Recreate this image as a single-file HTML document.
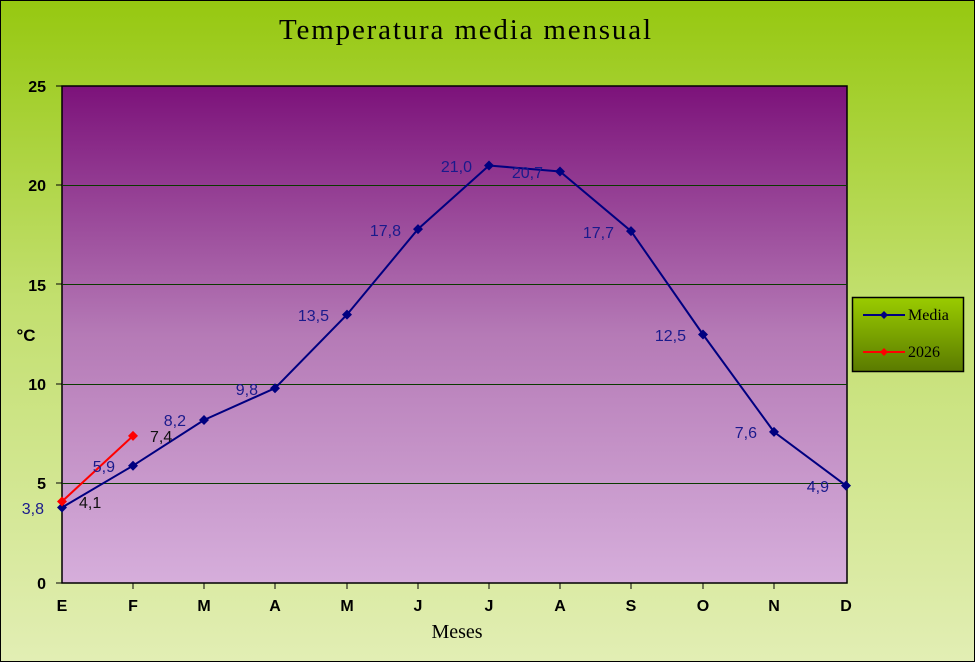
<!DOCTYPE html>
<html><head><meta charset="utf-8"><style>body{margin:0}svg{display:block}</style></head><body>
<svg width="975" height="662" xmlns="http://www.w3.org/2000/svg">
<defs>
<linearGradient id="bg" x1="0" y1="0" x2="0" y2="1"><stop offset="0" stop-color="#96c810"/><stop offset="0.45" stop-color="#c2df6e"/><stop offset="1" stop-color="#e2eeb4"/></linearGradient>
<linearGradient id="pa" x1="0" y1="0" x2="0" y2="1"><stop offset="0" stop-color="#7c127a"/><stop offset="0.5" stop-color="#b57ab6"/><stop offset="1" stop-color="#d6aedb"/></linearGradient>
<linearGradient id="lg" x1="0" y1="0" x2="0" y2="1"><stop offset="0" stop-color="#9acc00"/><stop offset="1" stop-color="#5a7a00"/></linearGradient>
</defs>
<rect x="0" y="0" width="975" height="662" fill="url(#bg)"/>
<rect x="0.5" y="0.5" width="974" height="661" fill="none" stroke="#000"/>
<text x="279" y="39" font-family="Liberation Serif,serif" font-size="29" textLength="372" lengthAdjust="spacing">Temperatura media mensual</text>
<rect x="62" y="86" width="785" height="497" fill="url(#pa)" stroke="#000" stroke-width="1.5"/>
<g stroke="#0a3a00" stroke-width="1"><line x1="62" y1="185.5" x2="847" y2="185.5"/><line x1="62" y1="284.5" x2="847" y2="284.5"/><line x1="62" y1="384.5" x2="847" y2="384.5"/><line x1="62" y1="483.5" x2="847" y2="483.5"/></g>
<g font-family="Liberation Sans,sans-serif" font-size="16" font-weight="bold" text-anchor="end">
<text x="46" y="92">25</text><text x="46" y="191">20</text><text x="46" y="291">15</text><text x="46" y="390">10</text><text x="46" y="489">5</text><text x="46" y="589">0</text></g>
<g stroke="#000"><line x1="56" y1="86" x2="62" y2="86"/><line x1="56" y1="185" x2="62" y2="185"/><line x1="56" y1="284" x2="62" y2="284"/><line x1="56" y1="384" x2="62" y2="384"/><line x1="56" y1="483" x2="62" y2="483"/><line x1="56" y1="583" x2="62" y2="583"/>
<line x1="133" y1="583" x2="133" y2="589"/><line x1="204" y1="583" x2="204" y2="589"/><line x1="275" y1="583" x2="275" y2="589"/><line x1="347" y1="583" x2="347" y2="589"/><line x1="418" y1="583" x2="418" y2="589"/><line x1="489" y1="583" x2="489" y2="589"/><line x1="560" y1="583" x2="560" y2="589"/><line x1="631" y1="583" x2="631" y2="589"/><line x1="703" y1="583" x2="703" y2="589"/><line x1="774" y1="583" x2="774" y2="589"/></g>
<g font-family="Liberation Sans,sans-serif" font-size="16" font-weight="bold" text-anchor="middle">
<text x="62" y="611">E</text><text x="133" y="611">F</text><text x="204" y="611">M</text><text x="275" y="611">A</text><text x="347" y="611">M</text><text x="418" y="611">J</text><text x="489" y="611">J</text><text x="560" y="611">A</text><text x="631" y="611">S</text><text x="703" y="611">O</text><text x="774" y="611">N</text><text x="846" y="611">D</text></g>
<text x="26" y="341" font-family="Liberation Sans,sans-serif" font-size="17" font-weight="bold" text-anchor="middle">°C</text>
<text x="457" y="638" font-family="Liberation Serif,serif" font-size="20" text-anchor="middle">Meses</text>
<polyline fill="none" stroke="#000080" stroke-width="2" points="62,507.5 133,465.7 204,420 275,388.2 347,314.6 418,229.1 489,165.5 560,171.5 631,231.1 703,334.5 774,431.9 846,485.6"/>
<g fill="#000080">
<path d="M62 502.5l5 5-5 5-5-5z"/><path d="M133 460.7l5 5-5 5-5-5z"/><path d="M204 415l5 5-5 5-5-5z"/><path d="M275 383.2l5 5-5 5-5-5z"/><path d="M347 309.6l5 5-5 5-5-5z"/><path d="M418 224.1l5 5-5 5-5-5z"/><path d="M489 160.5l5 5-5 5-5-5z"/><path d="M560 166.5l5 5-5 5-5-5z"/><path d="M631 226.1l5 5-5 5-5-5z"/><path d="M703 329.5l5 5-5 5-5-5z"/><path d="M774 426.9l5 5-5 5-5-5z"/><path d="M846 480.6l5 5-5 5-5-5z"/></g>
<polyline fill="none" stroke="#ff0000" stroke-width="2" points="62,501.5 133,435.9"/>
<g fill="#ff0000"><path d="M62 496.5l5 5-5 5-5-5z"/><path d="M133 430.9l5 5-5 5-5-5z"/></g>
<g font-family="Liberation Sans,sans-serif" font-size="16" fill="#1a1a8c" text-anchor="end">
<text x="44" y="514">3,8</text><text x="115" y="472">5,9</text><text x="186" y="426">8,2</text><text x="258" y="395">9,8</text><text x="329" y="321">13,5</text><text x="401" y="236">17,8</text><text x="472" y="172">21,0</text><text x="543" y="178">20,7</text><text x="614" y="238">17,7</text><text x="686" y="341">12,5</text><text x="757" y="438">7,6</text><text x="829" y="492">4,9</text></g>
<g font-family="Liberation Sans,sans-serif" font-size="16" fill="#111"><text x="79" y="508">4,1</text><text x="150" y="442">7,4</text></g>
<rect x="852.5" y="297.5" width="111" height="74" fill="url(#lg)" stroke="#000" stroke-width="1.5"/>
<line x1="863" y1="315" x2="905" y2="315" stroke="#000080" stroke-width="2"/><path d="M884 311l4 4-4 4-4-4z" fill="#000080"/>
<line x1="863" y1="352" x2="905" y2="352" stroke="#ff0000" stroke-width="2"/><path d="M884 348l4 4-4 4-4-4z" fill="#ff0000"/>
<g font-family="Liberation Serif,serif" font-size="16"><text x="908" y="320">Media</text><text x="908" y="357">2026</text></g>
</svg>
</body></html>
